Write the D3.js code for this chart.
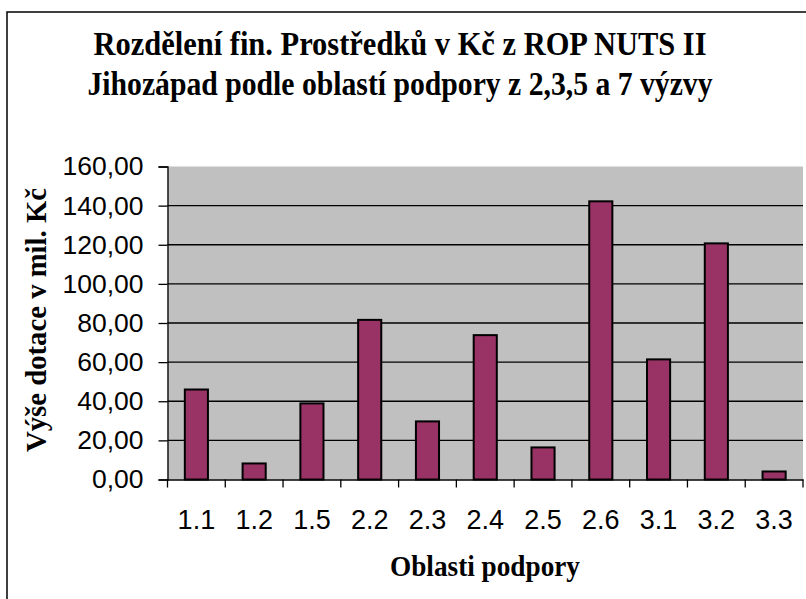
<!DOCTYPE html>
<html>
<head>
<meta charset="utf-8">
<script src="https://cdn.jsdelivr.net/npm/d3@7"></script>
<style>
  html, body { margin: 0; padding: 0; background: #fff; }
  svg { display: block; }
</style>
</head>
<body>
<div id="chart"></div>
<script>
// data (mil. Kč)
const categories = ['1.1', '1.2', '1.5', '2.2', '2.3', '2.4', '2.5', '2.6', '3.1', '3.2', '3.3'];
const values = [46.0, 8.2, 38.9, 81.6, 29.7, 73.8, 16.4, 142.2, 61.4, 120.7, 4.1];
const yTicks = [0, 20, 40, 60, 80, 100, 120, 140, 160];
const titleLines = ['Rozdělení fin. Prostředků v Kč z ROP NUTS II', 'Jihozápad podle oblastí podpory z 2,3,5 a 7 výzvy'];

const W = 806, H = 599;
const plot = { left: 167.5, right: 803, top: 166.5, bottom: 479.5 };

const svg = d3.select('#chart').append('svg')
  .attr('width', W).attr('height', H);

// outer chart border (runs off the right and bottom edge)
svg.append('rect')
  .attr('x', 7).attr('y', 12)
  .attr('width', W + 20).attr('height', H + 20)
  .attr('fill', '#fff').attr('stroke', '#000').attr('stroke-width', 1.5);

const x = d3.scaleBand().domain(categories)
  .range([plot.left, plot.right]).paddingInner(0.6).paddingOuter(0.3);
const xTick = d3.scaleBand().domain(categories).range([plot.left, plot.right]);
const y = d3.scaleLinear().domain([0, 160]).range([plot.bottom, plot.top]);

const fmt = d3.formatLocale({ decimal: ',', thousands: ' ', grouping: [3], currency: ['', ''] }).format('.2f');

// plot background
svg.append('rect')
  .attr('x', plot.left).attr('y', plot.top)
  .attr('width', plot.right - plot.left).attr('height', plot.bottom - plot.top)
  .attr('fill', '#c0c0c0');

// gridlines
svg.append('g').selectAll('line')
  .data(yTicks.filter(d => d > 0 && d < 160))
  .join('line')
  .attr('x1', plot.left).attr('x2', plot.right)
  .attr('y1', d => y(d)).attr('y2', d => y(d))
  .attr('stroke', '#000').attr('stroke-width', 1.3);

// bars
svg.append('g').selectAll('rect')
  .data(values)
  .join('rect')
  .attr('x', (d, i) => x(categories[i]))
  .attr('y', d => y(d))
  .attr('width', x.bandwidth())
  .attr('height', d => plot.bottom - y(d))
  .attr('fill', '#993366')
  .attr('stroke', '#000').attr('stroke-width', 2);

const sans = '"Liberation Sans", Arial, sans-serif';
const serif = '"Liberation Serif", "Times New Roman", serif';

// y axis
const yAxis = svg.append('g')
  .attr('transform', `translate(${plot.left},0)`)
  .call(d3.axisLeft(y).tickValues(yTicks).tickFormat(fmt).tickSize(9).tickPadding(15));
yAxis.select('.domain').attr('stroke-width', 1.3);
yAxis.selectAll('.tick line').attr('stroke-width', 1.3);
yAxis.selectAll('text')
  .attr('font-family', sans)
  .attr('font-size', 26.5).attr('fill', '#000');

// x axis (ticks on category boundaries)
const xAxis = svg.append('g')
  .attr('transform', `translate(0,${plot.bottom})`)
  .call(d3.axisBottom(xTick).tickSize(0).tickPadding(30));
xAxis.select('.domain').attr('stroke-width', 1.3);
xAxis.selectAll('text')
  .attr('font-family', sans)
  .attr('font-size', 27).attr('fill', '#000');
xAxis.append('g').selectAll('line')
  .data(categories.map(c => xTick(c)).concat([plot.right]))
  .join('line')
  .attr('x1', d => d).attr('x2', d => d)
  .attr('y1', 0).attr('y2', 8)
  .attr('stroke', '#000').attr('stroke-width', 1.3);

// title
svg.append('g').selectAll('text')
  .data(titleLines)
  .join('text')
  .attr('x', 400).attr('y', (d, i) => 55 + i * 40)
  .attr('text-anchor', 'middle')
  .attr('font-family', serif)
  .attr('font-weight', 'bold').attr('font-size', 34)
  .attr('textLength', (d, i) => i === 0 ? 613 : 625)
  .attr('lengthAdjust', 'spacingAndGlyphs')
  .text(d => d);

// axis titles
svg.append('text')
  .attr('x', 485).attr('y', 576)
  .attr('text-anchor', 'middle')
  .attr('font-family', serif)
  .attr('font-weight', 'bold').attr('font-size', 30)
  .attr('textLength', 190).attr('lengthAdjust', 'spacingAndGlyphs')
  .text('Oblasti podpory');

svg.append('text')
  .attr('transform', `translate(46,320) rotate(-90)`)
  .attr('text-anchor', 'middle')
  .attr('font-family', serif)
  .attr('font-weight', 'bold').attr('font-size', 30)
  .attr('textLength', 264).attr('lengthAdjust', 'spacingAndGlyphs')
  .text('Výše dotace v mil. Kč');
</script>
</body>
</html>
